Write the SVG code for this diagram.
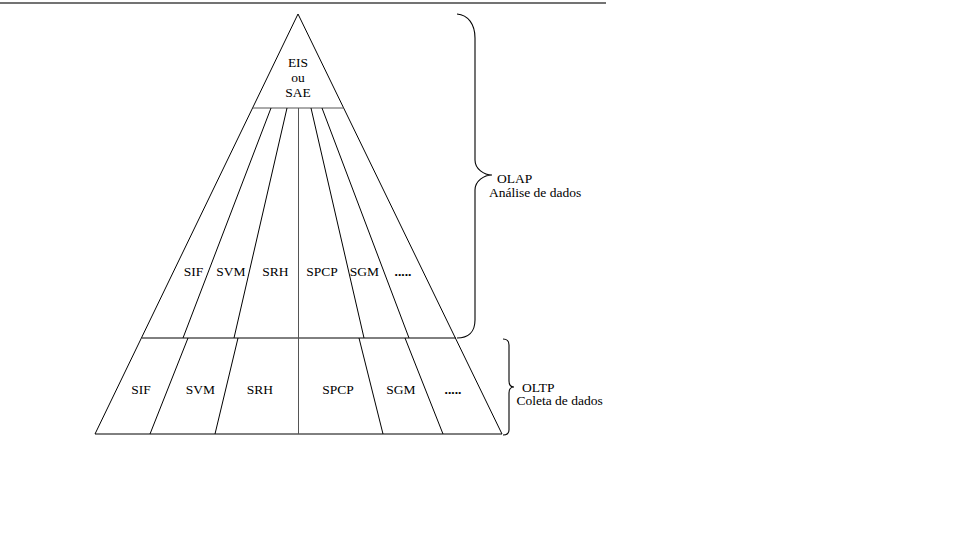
<svg xmlns="http://www.w3.org/2000/svg" width="960" height="540" viewBox="0 0 960 540">
<style>
.ln{stroke:#000;stroke-width:1;fill:none}
.gl{stroke:#555;stroke-width:1;fill:none}
.br{stroke:#000;stroke-width:1.1;fill:none}
text{font-family:"Liberation Serif","Times New Roman",serif;font-size:13.5px;fill:#000}
.c{text-anchor:middle}
.b{font-weight:bold}
</style>
<rect width="960" height="540" fill="#fff"/>
<line x1="0" y1="3" x2="606" y2="3" stroke="#444" stroke-width="1.6"/>
<g id="connectors">
<polygon class="ln" points="298,14 95,434 502,434"/>
<line class="gl" x1="253" y1="108" x2="344" y2="108"/>
<line class="ln" x1="142" y1="338" x2="456" y2="338"/>
<line class="gl" x1="298.5" y1="108" x2="298.5" y2="434"/>
<line class="ln" x1="271" y1="108" x2="183" y2="338"/>
<line class="ln" x1="287" y1="108" x2="234" y2="338"/>
<line class="ln" x1="311" y1="108" x2="364" y2="338"/>
<line class="ln" x1="322" y1="108" x2="409" y2="338"/>
<line class="ln" x1="188" y1="338" x2="150" y2="434"/>
<line class="ln" x1="238" y1="338" x2="215" y2="434"/>
<line class="ln" x1="359" y1="338" x2="383" y2="434"/>
<line class="ln" x1="405" y1="338" x2="443" y2="434"/>
<path class="br" d="M457,14 C468,15 475,24 475,38 L475,160 C475,169 484,175 492,175 C484,175 475,181 475,190 L475,320 C475,332 468,338 457,338"/>
<path class="br" d="M503,339 C507,339 509,341 509,345 L509,381 C509,385 511,387 514,387 C511,387 509,389 509,393 L509,430 C509,433 507,435 503,435"/>
</g>
<g id="top"><text class="c" x="298" y="67">EIS</text><text class="c" x="298" y="82">ou</text><text class="c" x="298" y="97">SAE</text></g>
<g id="olap-sif"><text class="c" x="193.5" y="275.5">SIF</text></g>
<g id="olap-svm"><text class="c" x="231" y="275.5">SVM</text></g>
<g id="olap-srh"><text class="c" x="275.5" y="275.5">SRH</text></g>
<g id="olap-spcp"><text class="c" x="322" y="275.5">SPCP</text></g>
<g id="olap-sgm"><text class="c" x="364.5" y="275.5">SGM</text></g>
<g id="olap-more"><text class="c b" x="403" y="275.5">.....</text></g>
<g id="oltp-sif"><text class="c" x="141" y="393.5">SIF</text></g>
<g id="oltp-svm"><text class="c" x="200.5" y="393.5">SVM</text></g>
<g id="oltp-srh"><text class="c" x="260" y="393.5">SRH</text></g>
<g id="oltp-spcp"><text class="c" x="338" y="393.5">SPCP</text></g>
<g id="oltp-sgm"><text class="c" x="401" y="393.5">SGM</text></g>
<g id="oltp-more"><text class="c b" x="453" y="393.5">.....</text></g>
<g id="olap-label"><text x="497" y="183">OLAP</text><text x="489" y="197">Análise de dados</text></g>
<g id="oltp-label"><text x="522" y="391.5">OLTP</text><text x="516.5" y="405">Coleta de dados</text></g>
</svg>
